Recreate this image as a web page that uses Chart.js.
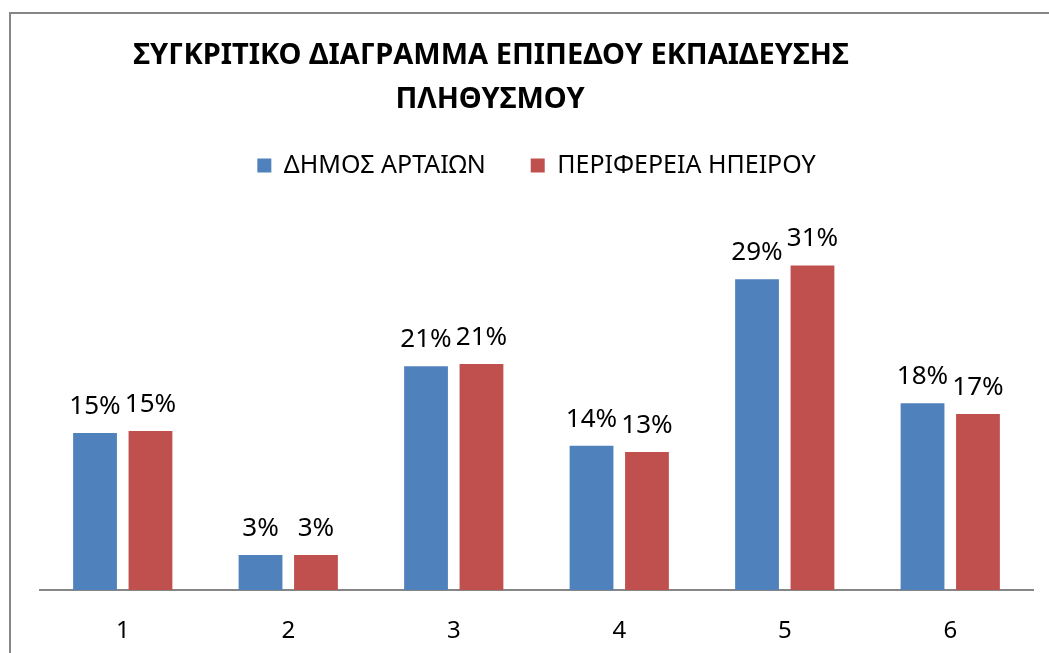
<!DOCTYPE html>
<html>
<head>
<meta charset="utf-8">
<script src="https://cdn.jsdelivr.net/npm/chart.js@4"></script>
<style>
    html, body { margin: 0; padding: 0; background: #fff; }
    #wrap { position: relative; width: 1049px; height: 653px; }
</style>
</head>
<body>
<div id="wrap"><canvas id="edu-chart" width="1049" height="653"></canvas></div>
<script>
const categories = ['1', '2', '3', '4', '5', '6'];
const seriesNames = ['ΔΗΜΟΣ ΑΡΤΑΙΩΝ', 'ΠΕΡΙΦΕΡΕΙΑ ΗΠΕΙΡΟΥ'];
const dimosArtaion = [14.8, 3.3, 21.1, 13.6, 29.3, 17.6];
const perifereiaIpeirou = [15.0, 3.3, 21.3, 13.0, 30.6, 16.6];
const titleLines = ['ΣΥΓΚΡΙΤΙΚΟ ΔΙΑΓΡΑΜΜΑ ΕΠΙΠΕΔΟΥ ΕΚΠΑΙΔΕΥΣΗΣ', 'ΠΛΗΘΥΣΜΟΥ'];

const FONT = "'Noto Sans', 'DejaVu Sans', sans-serif";

// frame + title, drawn by hand so the title can sit left of center like the original
const framePlugin = {
    id: 'frame',
    beforeDraw(chart) {
        const ctx = chart.ctx;
        ctx.save();
        ctx.strokeStyle = '#868686';
        ctx.lineWidth = 2;
        ctx.beginPath();
        ctx.moveTo(10, chart.height);
        ctx.lineTo(10, 13);
        ctx.lineTo(chart.width, 13);
        ctx.stroke();
        ctx.restore();
    },
    afterDraw(chart) {
        const ctx = chart.ctx;
        ctx.save();
        ctx.fillStyle = '#000';
        ctx.font = "bold 29px " + FONT;
        ctx.textAlign = 'center';
        ctx.textBaseline = 'middle';
        ctx.fillText(titleLines[0], 491, 56);
        ctx.fillText(titleLines[1], 490, 100);
        ctx.restore();
    }
};

// percentage labels above each bar
const valueLabels = {
    id: 'valueLabels',
    afterDatasetsDraw(chart) {
        const ctx = chart.ctx;
        ctx.save();
        ctx.fillStyle = '#000';
        ctx.font = "26px " + FONT;
        ctx.textAlign = 'center';
        ctx.textBaseline = 'alphabetic';
        chart.data.datasets.forEach((ds, i) => {
            const meta = chart.getDatasetMeta(i);
            meta.data.forEach((bar, j) => {
                ctx.fillText(Math.round(ds.data[j]) + '%', bar.x, bar.y - 19);
            });
        });
        ctx.restore();
    }
};

const ctx = document.getElementById('edu-chart').getContext('2d');

new Chart(ctx, {
    type: 'bar',
    data: {
        labels: categories,
        datasets: [{
            label: seriesNames[0],
            data: dimosArtaion,
            backgroundColor: '#4F81BD'
        }, {
            label: seriesNames[1],
            data: perifereiaIpeirou,
            backgroundColor: '#C0504D'
        }]
    },
    options: {
        responsive: false,
        animation: false,
        categoryPercentage: 0.67,
        barPercentage: 0.79,
        layout: {
            padding: { left: 40, right: 16, top: 108, bottom: 0 }
        },
        scales: {
            x: {
                grid: { display: false, drawTicks: false },
                border: { display: true, color: '#868686', width: 2 },
                ticks: {
                    color: '#000',
                    padding: 27,
                    font: { family: FONT, size: 24 }
                },
                afterFit(scale) {
                    scale.height = 63;
                }
            },
            y: {
                display: false,
                min: 0,
                max: 37.9
            }
        },
        plugins: {
            legend: {
                position: 'top',
                labels: {
                    boxWidth: 14,
                    boxHeight: 14,
                    padding: 45,
                    color: '#000',
                    font: { family: FONT, size: 25 }
                }
            },
            tooltip: { enabled: false }
        }
    },
    plugins: [framePlugin, valueLabels]
});
</script>
</body>
</html>
